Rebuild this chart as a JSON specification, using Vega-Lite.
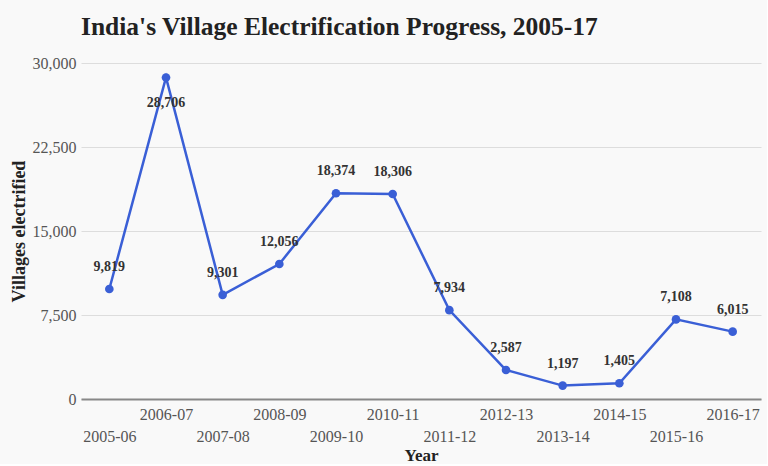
{
  "$schema": "https://vega.github.io/schema/vega-lite/v6.json",
  "width": 680,
  "height": 336,
  "padding": {"left": 10, "top": 14, "right": 6, "bottom": 1},
  "background": "#f9f9f9",
  "title": {
    "text": "India's Village Electrification Progress, 2005-17",
    "anchor": "start",
    "frame": "group",
    "font": "Liberation Serif",
    "fontSize": 25.5,
    "fontWeight": "bold",
    "color": "#222222",
    "offset": 15
  },
  "data": {
    "values": [
      {"year": "2005-06", "villages": 9819},
      {"year": "2006-07", "villages": 28706},
      {"year": "2007-08", "villages": 9301},
      {"year": "2008-09", "villages": 12056},
      {"year": "2009-10", "villages": 18374},
      {"year": "2010-11", "villages": 18306},
      {"year": "2011-12", "villages": 7934},
      {"year": "2012-13", "villages": 2587},
      {"year": "2013-14", "villages": 1197},
      {"year": "2014-15", "villages": 1405},
      {"year": "2015-16", "villages": 7108},
      {"year": "2016-17", "villages": 6015}
    ]
  },
  "encoding": {
    "x": {
      "field": "year",
      "type": "ordinal",
      "sort": null,
      "scale": {"type": "point", "padding": 0.5},
      "axis": {
        "title": "Year",
        "titleFont": "Liberation Serif",
        "titleFontSize": 17,
        "titleFontWeight": "bold",
        "titleColor": "#222222",
        "titlePadding": 3,
        "labelFont": "Liberation Serif",
        "labelFontSize": 16,
        "labelColor": "#555555",
        "labelAngle": 0,
        "labelBaseline": "top",
        "labelLineHeight": 22,
        "labelPadding": 7,
        "labelExpr": "toNumber(slice(datum.value, 0, 4)) % 2 == 1 ? ['', datum.label] : datum.label",
        "ticks": false,
        "grid": false,
        "domainColor": "#888888",
        "domainWidth": 2
      }
    },
    "y": {
      "field": "villages",
      "type": "quantitative",
      "scale": {"domain": [0, 30000]},
      "axis": {
        "title": "Villages electrified",
        "titleFont": "Liberation Serif",
        "titleFontSize": 18,
        "titleFontWeight": "bold",
        "titleColor": "#222222",
        "titlePadding": 4,
        "values": [0, 7500, 15000, 22500, 30000],
        "format": ",.0f",
        "labelFont": "Liberation Serif",
        "labelFontSize": 16,
        "labelColor": "#555555",
        "labelPadding": 5,
        "ticks": false,
        "domain": false,
        "grid": true,
        "gridColor": "#dddddd"
      }
    }
  },
  "layer": [
    {"mark": {"type": "line", "color": "#3a5fd6", "strokeWidth": 2.5}},
    {"mark": {"type": "point", "filled": true, "color": "#3a5fd6", "size": 75, "opacity": 1}},
    {
      "transform": [{"filter": "datum.villages < 20000"}],
      "mark": {"type": "text", "dy": -22, "font": "Liberation Serif", "fontSize": 14, "fontWeight": "bold", "color": "#333333"},
      "encoding": {"text": {"field": "villages", "type": "quantitative", "format": ",.0f"}}
    },
    {
      "transform": [{"filter": "datum.villages >= 20000"}],
      "mark": {"type": "text", "dy": 26, "font": "Liberation Serif", "fontSize": 14, "fontWeight": "bold", "color": "#333333"},
      "encoding": {"text": {"field": "villages", "type": "quantitative", "format": ",.0f"}}
    }
  ],
  "config": {"view": {"stroke": null}}
}
